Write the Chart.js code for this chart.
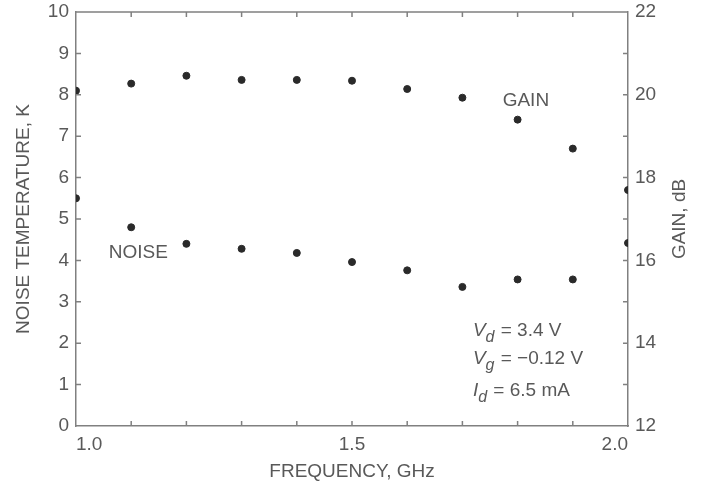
<!DOCTYPE html>
<html>
<head>
<meta charset="utf-8">
<script src="https://cdn.jsdelivr.net/npm/chart.js@4.4.1/dist/chart.umd.min.js"></script>
<style>
  html, body { margin: 0; padding: 0; background: #fff; }
  #kutu { width: 705px; height: 486px; }
</style>
</head>
<body>
<div id="kutu"><canvas id="grafik"></canvas></div>
<script>
/* VERILER */
var frekanslar = [1.0, 1.1, 1.2, 1.3, 1.4, 1.5, 1.6, 1.7, 1.8, 1.9, 2.0];
var gurultu = [5.5, 4.8, 4.4, 4.28, 4.18, 3.96, 3.76, 3.36, 3.54, 3.54, 4.42];
var kazanc = [20.1, 20.27, 20.46, 20.36, 20.36, 20.34, 20.14, 19.93, 19.4, 18.7, 17.7];
var xEtiketleri = [1.0, 1.5, 2.0];
var kazancEtiketleri = [12, 14, 16, 18, 20, 22];

var yaziRengi = "#595959";
var eksenRengi = "#808080";
var fontAilesi = "'Liberation Sans', Arial, sans-serif";
var yaziFontu = "19px " + fontAilesi;

/* NOKTA LISTELERI */
var gurultuNoktalari = [];
var kazancNoktalari = [];
for (var i = 0; i < frekanslar.length; i++) {
  gurultuNoktalari.push({x: frekanslar[i], y: gurultu[i]});
  kazancNoktalari.push({x: frekanslar[i], y: kazanc[i]});
}

/* DIKEY EKSEN GENISLIGI VE UST BOSLUK */
function dikeyEksenAyari(genislik) {
  return function (scale) {
    scale.width = genislik;
    scale.paddingTop = 0;
    scale.paddingBottom = 0;
  };
}

/* ICE DONUK CENTIKLER, CERCEVE VE YAZILAR */
var cizimEklentisi = {
  id: "cizimEklentisi",
  afterDraw: function (chart) {
    var ctx = chart.ctx;
    var alan = chart.chartArea;
    var sx = chart.scales.x, sy = chart.scales.y, sy2 = chart.scales.y2;
    var t, p;

    ctx.save();
    ctx.strokeStyle = eksenRengi;
    ctx.lineWidth = 1.5;
    ctx.beginPath();
    ctx.moveTo(alan.left, alan.top);
    ctx.lineTo(alan.right, alan.top);
    for (t = 1.1; t < 1.95; t += 0.1) {
      p = sx.getPixelForValue(t);
      ctx.moveTo(p, alan.bottom); ctx.lineTo(p, alan.bottom - 5);
      ctx.moveTo(p, alan.top); ctx.lineTo(p, alan.top + 5);
    }
    for (t = 1; t < 10; t++) {
      p = sy.getPixelForValue(t);
      ctx.moveTo(alan.left, p); ctx.lineTo(alan.left + 5, p);
    }
    for (t = 13; t < 22; t++) {
      p = sy2.getPixelForValue(t);
      ctx.moveTo(alan.right, p); ctx.lineTo(alan.right - 5, p);
    }
    ctx.stroke();

    ctx.fillStyle = yaziRengi;
    ctx.font = yaziFontu;
    ctx.textAlign = "center";
    ctx.textBaseline = "middle";

    // eksen basliklari
    ctx.fillText("FREQUENCY, GHz", (alan.left + alan.right) / 2, alan.bottom + 46);
    ctx.save();
    ctx.translate(alan.left - 52, (alan.top + alan.bottom) / 2);
    ctx.rotate(-Math.PI / 2);
    ctx.fillText("NOISE TEMPERATURE, K", 0, 0);
    ctx.restore();
    ctx.save();
    ctx.translate(alan.right + 52, (alan.top + alan.bottom) / 2);
    ctx.rotate(-Math.PI / 2);
    ctx.fillText("GAIN, dB", 0, 0);
    ctx.restore();

    // seri etiketleri
    ctx.fillText("GAIN", sx.getPixelForValue(1.815), sy.getPixelForValue(7.86));
    ctx.fillText("NOISE", sx.getPixelForValue(1.113), sy.getPixelForValue(4.19));

    // calisma kosullari
    ctx.textAlign = "left";
    ctx.textBaseline = "alphabetic";
    var satirlar = [
      ["V", "d", " = 3.4 V", 2.17],
      ["V", "g", " = \u22120.12 V", 1.5],
      ["I", "d", " = 6.5 mA", 0.72]
    ];
    var sol = sx.getPixelForValue(1.719);
    for (var k = 0; k < satirlar.length; k++) {
      var yy = sy.getPixelForValue(satirlar[k][3]);
      var xx = sol;
      ctx.font = "italic " + yaziFontu;
      ctx.fillText(satirlar[k][0], xx, yy);
      xx += ctx.measureText(satirlar[k][0]).width;
      ctx.font = "italic 16px " + fontAilesi;
      ctx.fillText(satirlar[k][1], xx, yy + 6);
      xx += ctx.measureText(satirlar[k][1]).width + 1;
      ctx.font = yaziFontu;
      ctx.fillText(satirlar[k][2], xx, yy);
    }
    ctx.restore();
  }
};

var ctx = document.getElementById("grafik");
var grafik = new Chart(ctx, {
  type: "scatter",
  data: {
    datasets: [{
      label: "NOISE",
      data: gurultuNoktalari,
      yAxisID: "y",
      backgroundColor: "#2a2a2a",
      borderColor: "#2a2a2a",
      pointRadius: 3.5
    }, {
      label: "GAIN",
      data: kazancNoktalari,
      yAxisID: "y2",
      backgroundColor: "#2a2a2a",
      borderColor: "#2a2a2a",
      pointRadius: 3.5
    }]
  },
  options: {
    responsive: true,
    maintainAspectRatio: false,
    animation: false,
    layout: { padding: { top: 12, left: 0, right: 0, bottom: 0 } },
    plugins: {
      legend: { display: false },
      tooltip: { enabled: false }
    },
    scales: {
      x: {
        type: "linear",
        min: 1.0,
        max: 2.0,
        afterFit: function (scale) { scale.height = 60; },
        afterBuildTicks: function (scale) {
          scale.ticks = xEtiketleri.map(function (v) { return {value: v}; });
        },
        grid: { display: false, drawTicks: false },
        border: { display: true, color: eksenRengi, width: 1.5 },
        ticks: {
          align: "inner",
          padding: 7,
          color: yaziRengi,
          font: { size: 19, family: fontAilesi },
          callback: function (v) { return v.toFixed(1); }
        }
      },
      y: {
        position: "left",
        min: 0,
        max: 10,
        afterFit: dikeyEksenAyari(76),
        grid: { display: false, drawTicks: false },
        border: { display: true, color: eksenRengi, width: 1.5 },
        ticks: {
          stepSize: 1,
          padding: 7,
          color: yaziRengi,
          font: { size: 19, family: fontAilesi }
        }
      },
      y2: {
        position: "right",
        min: 12,
        max: 22,
        afterFit: dikeyEksenAyari(77),
        afterBuildTicks: function (scale) {
          scale.ticks = kazancEtiketleri.map(function (v) { return {value: v}; });
        },
        grid: { display: false, drawTicks: false },
        border: { display: true, color: eksenRengi, width: 1.5 },
        ticks: {
          padding: 7,
          color: yaziRengi,
          font: { size: 19, family: fontAilesi }
        }
      }
    }
  },
  plugins: [cizimEklentisi]
});
</script>
</body>
</html>
